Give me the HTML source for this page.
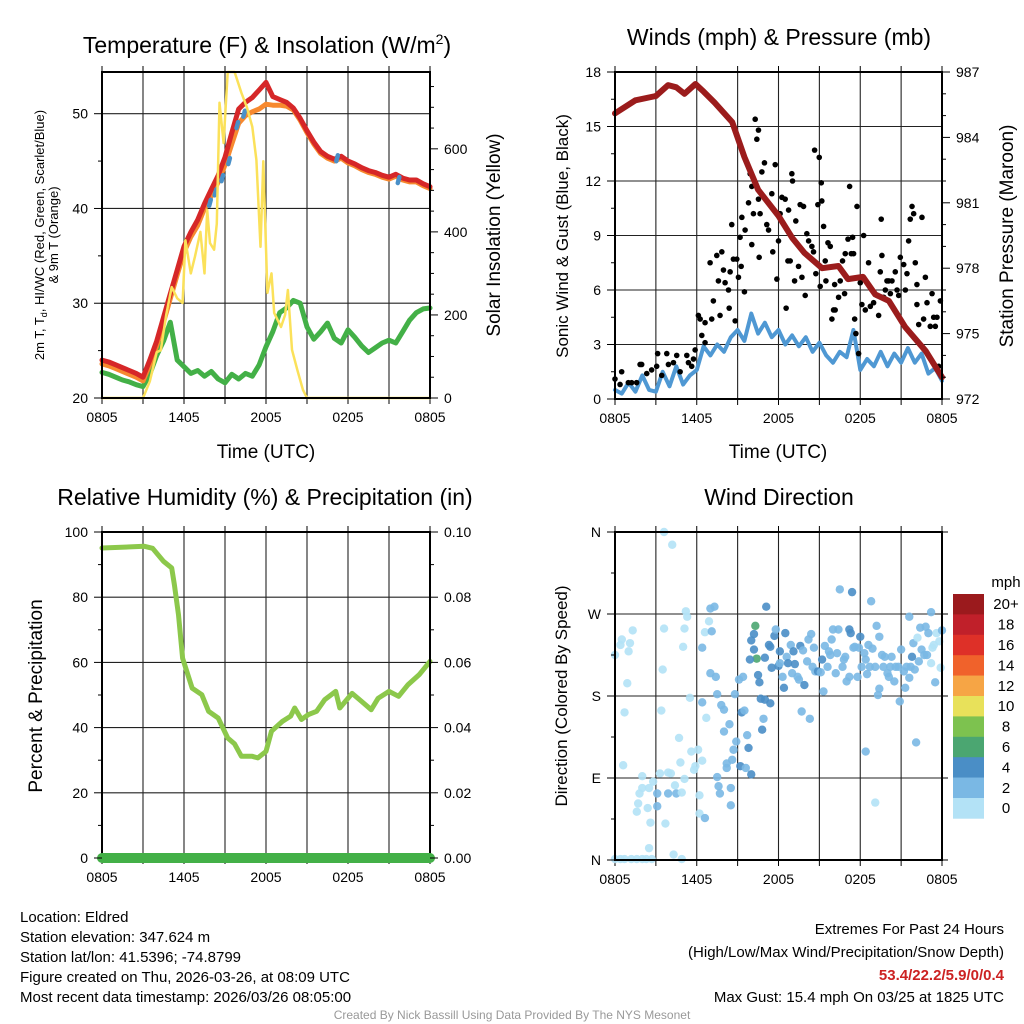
<!DOCTYPE html>
<html><head><meta charset="utf-8">
<style>
html,body{margin:0;padding:0;background:#fff;}
svg{display:block;font-family:"Liberation Sans",Arial,sans-serif;}
</style></head>
<body>
<svg id="chart" width="1024" height="1024" viewBox="0 0 1024 1024" xmlns="http://www.w3.org/2000/svg">
<rect width="1024" height="1024" fill="#fff"/>
<g id="layer"></g>
<text x="267" y="53" font-size="23" text-anchor="middle">Temperature (F) &amp; Insolation (W/m<tspan font-size="14" dy="-9">2</tspan><tspan dy="9">)</tspan></text>
<text x="779" y="45" font-size="23" text-anchor="middle">Winds (mph) &amp; Pressure (mb)</text>
<text x="265" y="505" font-size="23" text-anchor="middle">Relative Humidity (%) &amp; Precipitation (in)</text>
<text x="779" y="505" font-size="23" text-anchor="middle">Wind Direction</text>
<text x="266" y="458" font-size="19" text-anchor="middle">Time (UTC)</text>
<text x="778" y="458" font-size="19" text-anchor="middle">Time (UTC)</text>
<g font-size="13" text-anchor="middle">
<text transform="translate(44,235) rotate(-90)">2m T, T<tspan font-size="9" dy="3">d</tspan><tspan dy="-3">, HI/WC (Red, Green, Scarlet/Blue)</tspan></text>
<text transform="translate(58,235) rotate(-90)">&amp; 9m T (Orange)</text>
</g>
<text transform="translate(500,235) rotate(-90)" font-size="19" text-anchor="middle">Solar Insolation (Yellow)</text>
<text transform="translate(568,236) rotate(-90)" font-size="17" text-anchor="middle">Sonic Wind &amp; Gust (Blue, Black)</text>
<text transform="translate(1013,236) rotate(-90)" font-size="19" text-anchor="middle">Station Pressure (Maroon)</text>
<text transform="translate(42,696) rotate(-90)" font-size="19" text-anchor="middle">Percent &amp; Precipitation</text>
<text transform="translate(567,696) rotate(-90)" font-size="17" text-anchor="middle">Direction (Colored By Speed)</text>
<g font-size="15">
<text x="20" y="922">Location: Eldred</text>
<text x="20" y="942">Station elevation: 347.624 m</text>
<text x="20" y="962">Station lat/lon: 41.5396; -74.8799</text>
<text x="20" y="982">Figure created on Thu, 2026-03-26, at 08:09 UTC</text>
<text x="20" y="1002">Most recent data timestamp: 2026/03/26 08:05:00</text>
</g>
<g font-size="15" text-anchor="end">
<text x="1004" y="934">Extremes For Past 24 Hours</text>
<text x="1004" y="957">(High/Low/Max Wind/Precipitation/Snow Depth)</text>
<text x="1004" y="980" fill="#cc2222" font-weight="bold">53.4/22.2/5.9/0/0.4</text>
<text x="1004" y="1002">Max Gust: 15.4 mph On 03/25 at 1825 UTC</text>
</g>
<text x="512" y="1019" font-size="12" fill="#999" text-anchor="middle">Created By Nick Bassill Using Data Provided By The NYS Mesonet</text>
</svg>
<script>
// ---------- data ----------
const timeTickLabels = ["0805","1405","2005","0205","0805"];
const halfHours = [0,0.5,1,1.5,2,2.5,3,3.5,4,4.5,5,5.5,6,6.5,7,7.5,8,8.5,9,9.5,10,10.5,11,11.5,12,12.5,13,13.5,14,14.5,15,15.5,16,16.5,17,17.5,18,18.5,19,19.5,20,20.5,21,21.5,22,22.5,23,23.5,24];
const tempRed = [24,23.8,23.5,23.2,22.9,22.6,22.2,24,26,28.5,31,33.5,36,37.5,38.8,40.5,42,43.5,45.4,48,50.5,51.2,51.7,52.5,53.3,51.8,51.5,51.2,50.6,49.5,48.2,47,46,45.5,45.2,45.5,45,44.7,44.3,44,43.8,43.5,43.3,43.6,43.2,43,43,42.6,42.3];
const tempOrange = [23.6,23.4,23.1,22.8,22.5,22.2,21.8,23.5,25.5,28,30.5,33,35.4,37,38.2,40,41.3,42.8,44.6,46.8,49,49.8,50.2,50.5,51,50.9,50.9,50.8,50.4,49.3,48,46.8,45.8,45.3,45,45.3,44.8,44.5,44.1,43.8,43.6,43.3,43.1,43.4,43,42.8,42.8,42.4,42.1];
const tempGreen = [22.7,22.5,22.2,21.9,21.7,21.4,21.2,22.5,24.5,26,28,24,23.3,22.6,22.9,22.3,22.8,22,21.6,22.5,22,22.6,22.3,23.5,25.4,27,29,29.5,30.3,30,27.5,26.2,27,27.9,26.3,25.8,27.2,26.4,25.5,24.8,25.3,25.8,26.1,25.8,27,28.2,29,29.4,29.5];
const wcHours = [7.9,8.3,8.8,9.3,9.9,10.4,17.2,21.7];
const wcTemp = [40.6,41.7,43.2,45.0,48.8,50.0,45.3,43.0];
const solarHours = [0,3,3.5,4,4.3,4.7,5.1,5.5,5.9,6.1,6.5,6.8,7.2,7.5,7.7,7.9,8.2,8.4,8.6,8.9,9.2,9.5,9.7,10.2,10.6,11,11.3,11.6,11.8,12.1,12.4,12.6,13.1,13.4,13.6,13.9,14.3,14.7,15,24];
const solarValues = [0,0,40,110,115,200,267,240,229,380,300,340,400,300,453,373,357,420,711,614,785,785,785,735,700,653,573,364,570,253,300,205,171,200,260,116,67,20,0,0];
const tempTicks = [20,30,40,50];
const solarTicks = [0,200,400,600];

const windValues = [0.5,0.3,0.9,0.4,1.3,0.5,0.4,1.5,0.7,1.8,0.8,1.3,1.6,2.9,2.4,3.0,2.6,3.4,3.8,3.2,4.7,3.6,4.2,3.4,3.8,3.0,3.5,2.9,3.4,2.6,3.1,2.4,2.0,2.6,2.3,3.8,1.6,2.2,1.8,2.6,1.8,2.5,2.0,2.8,2.0,2.5,1.4,1.7,1.0];
const pressureHours = [0,1.5,3,3.9,4.5,5.1,5.9,6.5,7.3,8.6,9.5,10.5,12,13,13.9,15.2,16.4,17.1,18.2,19.1,20.1,21.3,22.8,24];
const pressureValues = [985.1,985.7,985.9,986.4,986.3,986.0,986.45,986.1,985.6,984.7,983.1,981.6,980.4,979.4,978.7,978.0,978.1,977.5,977.6,976.8,976.5,975.3,974.2,973.0];
const gustHours = [0,0.37,0.49,0.98,1.22,1.59,1.84,1.96,2.33,2.69,3.06,3.13,3.43,3.8,3.92,4.29,4.53,4.78,5.27,5.39,5.63,5.76,5.88,6.12,6.25,6.37,6.61,6.61,6.98,7.1,7.22,7.47,7.59,7.71,7.84,7.96,8.08,8.33,8.38,8.45,8.57,8.69,8.82,8.94,9.06,9.18,9.26,9.31,9.5,9.55,9.8,9.92,10.04,10.04,10.16,10.29,10.41,10.53,10.53,10.58,10.65,10.78,10.97,11.14,11.27,11.51,11.58,11.76,11.88,12,12.12,12.25,12.49,12.56,12.69,12.74,12.86,12.98,13.03,13.18,13.27,13.47,13.59,13.72,13.84,13.96,14.08,14.21,14.45,14.57,14.65,14.74,14.89,14.99,15.06,15.14,15.18,15.31,15.43,15.48,15.63,15.8,15.92,16.04,16.12,16.16,16.41,16.53,16.7,16.85,16.9,17.1,17.22,17.34,17.44,17.51,17.59,17.68,17.76,17.88,18,18.12,18.25,18.37,18.61,18.74,18.86,18.98,19.23,19.35,19.47,19.54,19.59,19.72,19.84,19.96,20.08,20.21,20.33,20.57,20.7,20.82,20.94,21.19,21.31,21.43,21.55,21.67,21.8,21.92,22.04,22.16,22.16,22.29,22.53,22.65,22.78,22.9,23.14,23.27,23.39,23.51,23.63,23.76,23.88];
const gustSpeeds = [1.1,0.8,1.5,0.9,0.9,0.9,1.9,1.9,1.4,1.6,1.8,2.5,1.3,2.5,1.9,2.0,2.4,1.5,2.4,2.0,1.8,2.2,2.7,4.6,4.4,3.5,4.2,3.1,7.5,4.4,5.4,7.9,6.5,4.6,8.1,7.1,6.4,6.0,5.0,7.0,9.6,7.7,4.3,7.7,6.7,8.9,7.3,10.0,5.9,9.3,10.8,12.4,8.5,11.7,10.2,15.4,14.3,14.8,11.0,7.8,10.2,12.5,13.0,9.6,9.3,11.3,8.1,12.9,6.6,8.7,10.2,11.1,11.0,5.0,7.6,10.4,7.6,12.4,12.0,6.5,9.8,7.3,10.7,6.7,10.6,5.7,9.1,8.7,8.4,8.1,13.7,6.9,10.7,13.3,6.2,11.9,10.9,9.5,7.6,6.5,8.6,8.4,4.4,4.9,6.3,4.9,5.6,6.5,7.6,5.8,8.0,8.8,11.7,8.0,8.9,8.0,4.4,3.6,10.6,2.5,6.4,5.2,9.0,4.9,7.5,5.1,6.0,5.3,5.7,4.6,7.0,9.9,7.9,5.6,6.0,6.5,6.5,5.8,6.5,7.0,6.0,5.7,7.8,7.4,6.0,6.9,8.7,9.9,10.6,10.2,7.5,6.3,5.2,4.1,10.0,4.4,6.7,5.3,4.0,5.8,4.5,4.0,4.5,1.8,5.4];
const windTicks = [0,3,6,9,12,15,18];
const pressureTicks = [972,975,978,981,984,987];

const rhHours = [0,3.1,3.7,4.5,5.1,5.3,5.6,5.9,6.6,7.3,7.8,8.5,9.2,9.7,10.2,11,11.4,12,12.4,13.2,13.8,14.1,14.6,15.1,15.7,16.3,17.1,17.4,18.3,19,19.7,20.2,21,21.7,22.4,23.2,24];
const rhValues = [95.1,95.6,95,91,89,83.8,74.6,61.3,52.1,50.1,45,42.9,36.8,35,31.2,31.2,30.7,32.7,38.9,41.9,43.5,46,42.5,44,45,48.6,51.1,46,50.5,48,45.5,49,51.1,49.6,53.2,56.2,60.3];
const precipHours = [0,24];
const precipValues = [0,0];
const rhTicks = [0,20,40,60,80,100];
const precipTicks = ["0.00","0.02","0.04","0.06","0.08","0.10"];

const dirHours = [0,0.4,0.7,1.2,1.6,2.0,2.3,2.7,2.5,4.3,4.9,3.6,4.2,0,0.4,0.5,1.0,1.1,1.3,0.9,0.7,0.6,2.0,2.0,2.5,1.8,1.7,1.6,2.4,2.6,3.1,3.1,2.8,3.3,3.7,3.9,3.9,4.1,4.4,4.5,4.9,4.7,4.8,5.1,5.6,5.8,5.9,6.4,6.1,6.2,6.2,6.6,3.4,3.5,3.6,5.0,5.1,5.2,5.3,5.5,6.4,6.4,6.7,6.6,6.9,7.1,7.0,7.3,7.0,7.4,7.5,7.5,7.6,7.7,7.8,8.0,8.0,8.4,8.2,8.2,8.6,8.5,8.5,8.7,8.9,9.2,9.3,9.5,9.6,9.7,8.8,9.1,9.4,9.8,10.0,10.3,10.4,10.2,10.0,10.2,9.9,10.5,10.6,11.0,11.1,10.7,11.0,11.4,10.8,10.9,11.5,11.3,11.4,11.7,11.8,12.1,12.0,12.5,12.1,12.4,12.3,12.6,12.7,12.9,13.0,13.1,13.2,13.4,13.5,13.6,13.7,13.8,13.9,14.1,14.2,14.3,14.4,14.5,14.6,14.7,14.9,15.1,15.2,15.3,15.4,15.6,15.7,15.8,15.9,16.0,16.2,16.3,16.4,16.5,16.7,16.8,16.9,17.0,17.2,17.3,17.4,17.2,17.5,17.6,17.8,17.9,18.0,18.1,18.3,18.4,18.4,18.5,18.6,18.7,18.9,18.8,19.1,19.1,19.2,19.3,19.4,19.4,19.6,19.7,19.8,20.0,20.1,20.2,20.3,20.5,20.6,20.8,20.9,21.0,21.2,21.3,21.4,21.6,21.6,21.7,21.8,21.9,22.0,22.1,22.2,22.3,22.4,22.5,22.7,22.8,22.9,23.0,23.2,23.2,23.3,23.4,23.5,23.6,23.8,23.9,24.0];
const dirDegrees = [1,1,1,1,1,1,1,1,13,6,1,360,346,225,236,242,229,238,252,194,162,104,92,79,79,73,62,53,57,41,59,73,86,95,40,73,96,95,82,73,74,134,107,89,119,99,103,109,121,71,51,46,164,209,254,234,254,273,267,178,233,173,156,250,262,251,276,278,205,201,182,91,81,73,170,165,141,149,101,106,110,79,60,121,130,103,162,164,101,137,182,198,201,123,94,257,221,248,241,231,220,203,195,222,278,177,176,172,143,155,211,236,234,246,253,229,213,249,216,189,201,223,216,236,205,229,215,201,198,235,163,230,192,218,242,155,248,212,233,207,207,206,220,185,235,212,229,225,242,253,205,227,253,297,212,220,223,196,253,249,294,201,233,234,201,233,245,212,227,220,119,204,236,212,232,284,63,212,257,181,245,188,225,212,223,205,201,212,223,196,212,212,174,231,207,189,212,267,200,212,223,238,209,129,244,218,255,231,225,256,225,249,272,216,233,236,195,249,240,211,252];
const dirSpeeds = [1,1,1,1,1,1,1,1,1,1,1,1,1,1,1,1,1,1,1,1,1,1,1,1,1,1,1,1,1,1,3,3,1,1,1,3,1,1,1,3,1,1,1,1,1,1,1,1,1,1,1,3,1,1,1,1,1,1,1,1,3,3,1,1,1,3,3,3,3,3,3,3,3,3,3,3,3,3,3,3,3,3,3,3,3,5,5,3,3,3,3,3,3,5,5,7,7,5,5,5,5,5,5,5,5,5,5,5,5,3,5,5,5,5,3,5,5,5,3,5,3,3,5,3,3,5,5,3,3,5,3,3,5,3,3,3,3,3,3,3,5,3,5,3,3,3,3,3,3,3,3,3,3,3,3,3,3,3,5,5,5,3,3,3,3,3,5,3,3,3,3,3,3,3,3,3,1,3,3,3,3,3,3,3,3,3,3,3,3,3,3,3,3,3,3,3,3,3,3,3,5,3,3,3,1,3,3,3,3,3,3,3,3,1,1,1,3,1,1,1,3,3];
const dirTickLabels = ["N","E","S","W","N"];
const dirTickValues = [0,90,180,270,360];
const speedBins = [0,2,4,6,8,10,12,14,16,18,20];
const speedLabels = ["0","2","4","6","8","10","12","14","16","18","20+"];
const speedColors = ["#b3e2f6","#7ab8e4","#4a8ec6","#4ba671","#7dc24f","#e8e15a","#f6a545","#f0622b","#de3028","#c0202a","#9b1a1d"];

// ---------- drawing ----------
const NS = "http://www.w3.org/2000/svg";
const layer = document.getElementById("layer");
function mk(tag, attrs, parent) {
  const e = document.createElementNS(NS, tag);
  for (const k in attrs) e.setAttribute(k, attrs[k]);
  (parent || layer).appendChild(e);
  return e;
}
function linScale(d0, d1, r0, r1) { return v => r0 + (v - d0) / (d1 - d0) * (r1 - r0); }

function drawFrame(P, name) {
  const g = mk("g", {});
  
  
  for (let h = 3; h < 24; h += 3) {
    const x = P.x(h);
    mk("line", {x1:x, y1:P.y0, x2:x, y2:P.y1, stroke:"#222", "stroke-width":1.1}, g);
  }
  for (let h = 0; h <= 24; h += 3) {
    const x = P.x(h);
    mk("line", {x1:x, y1:P.y0-6, x2:x, y2:P.y0, stroke:"#000", "stroke-width":1}, g);
    mk("line", {x1:x, y1:P.y1, x2:x, y2:P.y1+6, stroke:"#000", "stroke-width":1}, g);
  }
  const lab = mk("g", {"font-size":14, "text-anchor":"middle"});
  
  
  timeTickLabels.forEach((t, i) => {
    const tx = mk("text", {x:P.x(i*6), y:P.y1+24}, lab);
    tx.textContent = t;
  });
}
function hGrid(P, yv, g) {
  mk("line", {x1:P.x0, y1:yv, x2:P.x1, y2:yv, stroke:"#222", "stroke-width":1.1}, g);
}
function border(P, name) {
  const r = mk("rect", {x:P.x0, y:P.y0, width:P.x1-P.x0, height:P.y1-P.y0, fill:"none", stroke:"#000", "stroke-width":2});
  
  
}
function leftTicks(P, vals, labels, ys, name, minorVals) {
  const g = mk("g", {"font-size":14, "text-anchor":"end"});
  
  
  vals.forEach((v, i) => {
    const y = ys(v);
    mk("line", {x1:P.x0-8, y1:y, x2:P.x0, y2:y, stroke:"#000"}, g);
    const t = mk("text", {x:P.x0-14, y:y+5}, g); t.textContent = labels[i];
  });
  (minorVals||[]).forEach(v => { const y = ys(v); mk("line", {x1:P.x0-4, y1:y, x2:P.x0, y2:y, stroke:"#000"}, g); });
}
function rightTicks(P, vals, labels, ys, name, minorVals) {
  const g = mk("g", {"font-size":14, "text-anchor":"start"});
  
  
  vals.forEach((v, i) => {
    const y = ys(v);
    mk("line", {x1:P.x1, y1:y, x2:P.x1+8, y2:y, stroke:"#000"}, g);
    const t = mk("text", {x:P.x1+14, y:y+5}, g); t.textContent = labels[i];
  });
  (minorVals||[]).forEach(v => { const y = ys(v); mk("line", {x1:P.x1, y1:y, x2:P.x1+4, y2:y, stroke:"#000"}, g); });
}
function polyline(xsArr, ysArr, xf, yf, attrs, name) {
  const pts = xsArr.map((h, i) => xf(h).toFixed(1) + "," + yf(ysArr[i]).toFixed(1)).join(" ");
  const p = mk("polyline", Object.assign({points:pts, fill:"none", "stroke-linejoin":"round", "stroke-linecap":"round"}, attrs));
  
  
  return p;
}

// Panel 1
const P1 = {x0:102, x1:430, y0:72, y1:398}; P1.x = linScale(0, 24, P1.x0, P1.x1);
const t1 = linScale(20, 54.4, P1.y1, P1.y0);
const s1 = linScale(0, 785, P1.y1, P1.y0);
drawFrame(P1, "temperature");
{ const g = mk("g", {});   [30,40,50].forEach(v => hGrid(P1, t1(v), g)); }
polyline(halfHours, tempGreen, P1.x, t1, {stroke:"#43b047", "stroke-width":5}, "hiwc-green-line");
polyline(halfHours, tempOrange, P1.x, t1, {stroke:"#f7892f", "stroke-width":5}, "temp-9m-orange-line");
polyline(halfHours, tempRed, P1.x, t1, {stroke:"#d62728", "stroke-width":5}, "temp-2m-red-line");
wcHours.forEach((h, i) => {
  const l = mk("line", {x1:P1.x(h)-0.8, y1:t1(wcTemp[i])+3, x2:P1.x(h)+0.8, y2:t1(wcTemp[i])-3, stroke:"#4a90c8", "stroke-width":4.5, "stroke-linecap":"round"});
  
  
});
polyline(solarHours, solarValues, P1.x, s1, {stroke:"#fbe15a", "stroke-width":2.5}, "solar-yellow-line");
border(P1, "temperature");
leftTicks(P1, tempTicks, tempTicks.map(String), t1, "temperature-y-ticks", [25,35,45]);
rightTicks(P1, solarTicks, solarTicks.map(String), s1, "solar-y-ticks", [50,100,150,250,300,350,450,500,550,650,700,750]);

// Panel 2
const P2 = {x0:615, x1:942, y0:72, y1:399}; P2.x = linScale(0, 24, P2.x0, P2.x1);
const w2 = linScale(0, 18, P2.y1, P2.y0);
const p2 = linScale(972, 987, P2.y1, P2.y0);
drawFrame(P2, "wind");
{ const g = mk("g", {});   [3,6,9,12,15].forEach(v => hGrid(P2, w2(v), g)); }
polyline(halfHours, windValues, P2.x, w2, {stroke:"#4f98d3", "stroke-width":4}, "sonic-wind-line");
{
  const g = mk("g", {fill:"#000"});
  
  
  gustHours.forEach((h, i) => {
    const c = mk("circle", {cx:P2.x(h), cy:w2(gustSpeeds[i]), r:2.8}, g);
    
    
  });
}
polyline(pressureHours, pressureValues, P2.x, p2, {stroke:"#9b1c1c", "stroke-width":6}, "pressure-line");
border(P2, "wind");
leftTicks(P2, windTicks, windTicks.map(String), w2, "wind-y-ticks", [1.5,4.5,7.5,10.5,13.5,16.5]);
rightTicks(P2, pressureTicks, pressureTicks.map(String), p2, "pressure-y-ticks", [973,974,976,977,979,980,982,983,985,986]);

// Panel 3
const P3 = {x0:102, x1:430, y0:532, y1:858}; P3.x = linScale(0, 24, P3.x0, P3.x1);
const r3 = linScale(0, 100, P3.y1, P3.y0);
const q3 = linScale(0, 0.1, P3.y1, P3.y0);
drawFrame(P3, "humidity");
{ const g = mk("g", {});   [20,40,60,80].forEach(v => hGrid(P3, r3(v), g)); }
polyline(rhHours, rhValues, P3.x, r3, {stroke:"#8cc84b", "stroke-width":5}, "humidity-line");
border(P3, "humidity");
polyline(precipHours, precipValues, P3.x, q3, {stroke:"#43b047", "stroke-width":10}, "precipitation-line");
leftTicks(P3, rhTicks, rhTicks.map(String), r3, "humidity-y-ticks", [10,30,50,70,90]);
rightTicks(P3, precipTicks.map(Number), precipTicks, q3, "precip-y-ticks", [0.01,0.03,0.05,0.07,0.09]);

// Panel 4
const P4 = {x0:615, x1:942, y0:532, y1:860}; P4.x = linScale(0, 24, P4.x0, P4.x1);
const d4 = linScale(0, 360, P4.y1, P4.y0);
drawFrame(P4, "direction");
{ const g = mk("g", {});   [90,180,270].forEach(v => hGrid(P4, d4(v), g)); }
function speedColor(s) { let k = 0; for (let i = 0; i < speedBins.length; i++) if (s >= speedBins[i]) k = i; return speedColors[k]; }
{
  const g = mk("g", {"fill-opacity":0.9});
  
  
  dirHours.forEach((h, i) => {
    const c = mk("circle", {cx:P4.x(h), cy:d4(dirDegrees[i]), r:4.2, fill:speedColor(dirSpeeds[i])}, g);
    
    
  });
}
border(P4, "direction");
leftTicks(P4, dirTickValues, dirTickLabels, d4, "direction-y-ticks", [45,135,225,315]);
{
  const g = mk("g", {});
  
  
  dirTickValues.forEach(v => mk("line", {x1:P4.x1, y1:d4(v), x2:P4.x1+6, y2:d4(v), stroke:"#000"}, g));
}

// Colorbar
{
  const g = mk("g", {"font-size":15, "text-anchor":"middle"});
  
  
  const top = 594, bh = 20.4;
  const n = speedColors.length;
  for (let i = 0; i < n; i++) {
    const idx = n - 1 - i;
    const y = top + i * bh;
    const r = mk("rect", {x:953, y:y, width:31, height:bh+0.3, fill:speedColors[idx]}, g);
    
    
    const t = mk("text", {x:1006, y:y+bh/2+5}, g); t.textContent = speedLabels[idx];
  }
  const m = mk("text", {x:1006, y:587}, g); m.textContent = "mph";
}
</script>
</body></html>
